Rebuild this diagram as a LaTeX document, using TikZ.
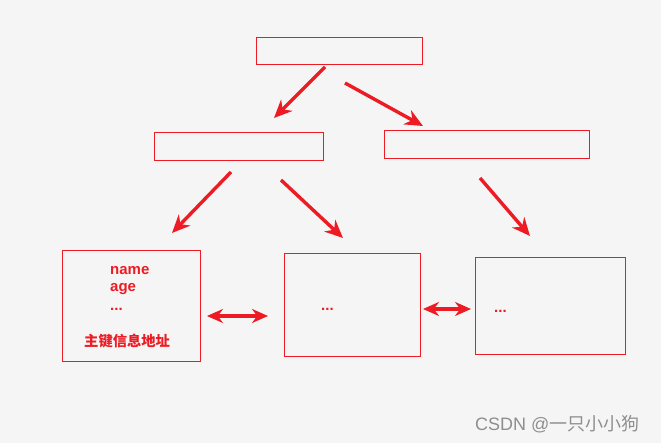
\documentclass[tikz,border=0pt]{standalone}
\usepackage{fontspec}
\setmainfont{Liberation Sans}
\newfontfamily\cjk{Noto Sans CJK SC}
\usetikzlibrary{arrows.meta}
\definecolor{boxred}{HTML}{ED1C24}
\definecolor{bggray}{HTML}{F5F5F5}
\definecolor{markgray}{HTML}{8E8E8E}
\tikzset{
  box/.style={draw=boxred, line width=0.8pt, inner sep=0pt},
  link/.style={draw=boxred, line width=3.4pt, -{Stealth[length=18pt,width=16pt]}},
  twoway/.style={draw=boxred, line width=3.4pt, {Stealth[length=16pt,width=14pt]}-{Stealth[length=16pt,width=14pt]}},
  field/.style={text=boxred, font=\bfseries\fontsize{15}{17}\selectfont, anchor=west, inner sep=0pt}
}
\begin{document}
\begin{tikzpicture}[x=1pt,y=-1pt]
  % background
  \fill [bggray] (0,0) rectangle (661,443);
  \useasboundingbox (0,0) rectangle (661,443);
  % boxes
  \draw [box] (256,37) rectangle (422,64);
  \draw [box] (154,132) rectangle (323,160);
  \draw [box] (384,130) rectangle (589,158);
  \draw [box] (62,250) rectangle (200,361);
  \draw [box] (284,253) rectangle (420,356);
  \draw [box] (475,257) rectangle (625,354);
  % arrow ends
  \coordinate (rootA) at (325,67);
  \coordinate (rootB) at (345,83);
  \coordinate (leftA) at (231,172);
  \coordinate (leftB) at (281,180);
  \coordinate (rightA) at (480,178);
  \coordinate (midL) at (274,118);
  \coordinate (midR) at (423,126);
  \coordinate (leafA) at (172,233);
  \coordinate (leafB) at (343,238);
  \coordinate (leafC) at (530,236);
  \coordinate (pairAL) at (207,316);
  \coordinate (pairAR) at (268,316);
  \coordinate (pairBL) at (423,309);
  \coordinate (pairBR) at (471,309);
  \draw [link] (rootA) -- (midL);
  \draw [link] (rootB) -- (midR);
  \draw [link] (leftA) -- (leafA);
  \draw [link] (leftB) -- (leafB);
  \draw [link] (rightA) -- (leafC);
  \draw [twoway] (pairAL) -- (pairAR);
  \draw [twoway] (pairBL) -- (pairBR);
  % texts
  \node [field] (fname) at (110,271) {name};
  \node [field] (fage) at (110,289) {age};
  \node [field] (fmore) at (110,309) {...};
  \node [field, font=\cjk\bfseries\fontsize{14.3}{16}\selectfont] (fkey) at (84,341) {主键信息地址};
  \node [field] (dotsmid) at (321,309) {...};
  \node [field] (dotsright) at (494,311) {...};
  \node [anchor=west, inner sep=0pt, text=markgray, font=\fontsize{18}{20}\selectfont] (mark) at (475,424) {CSDN @{\cjk 一只小小狗}};
\end{tikzpicture}
\end{document}
